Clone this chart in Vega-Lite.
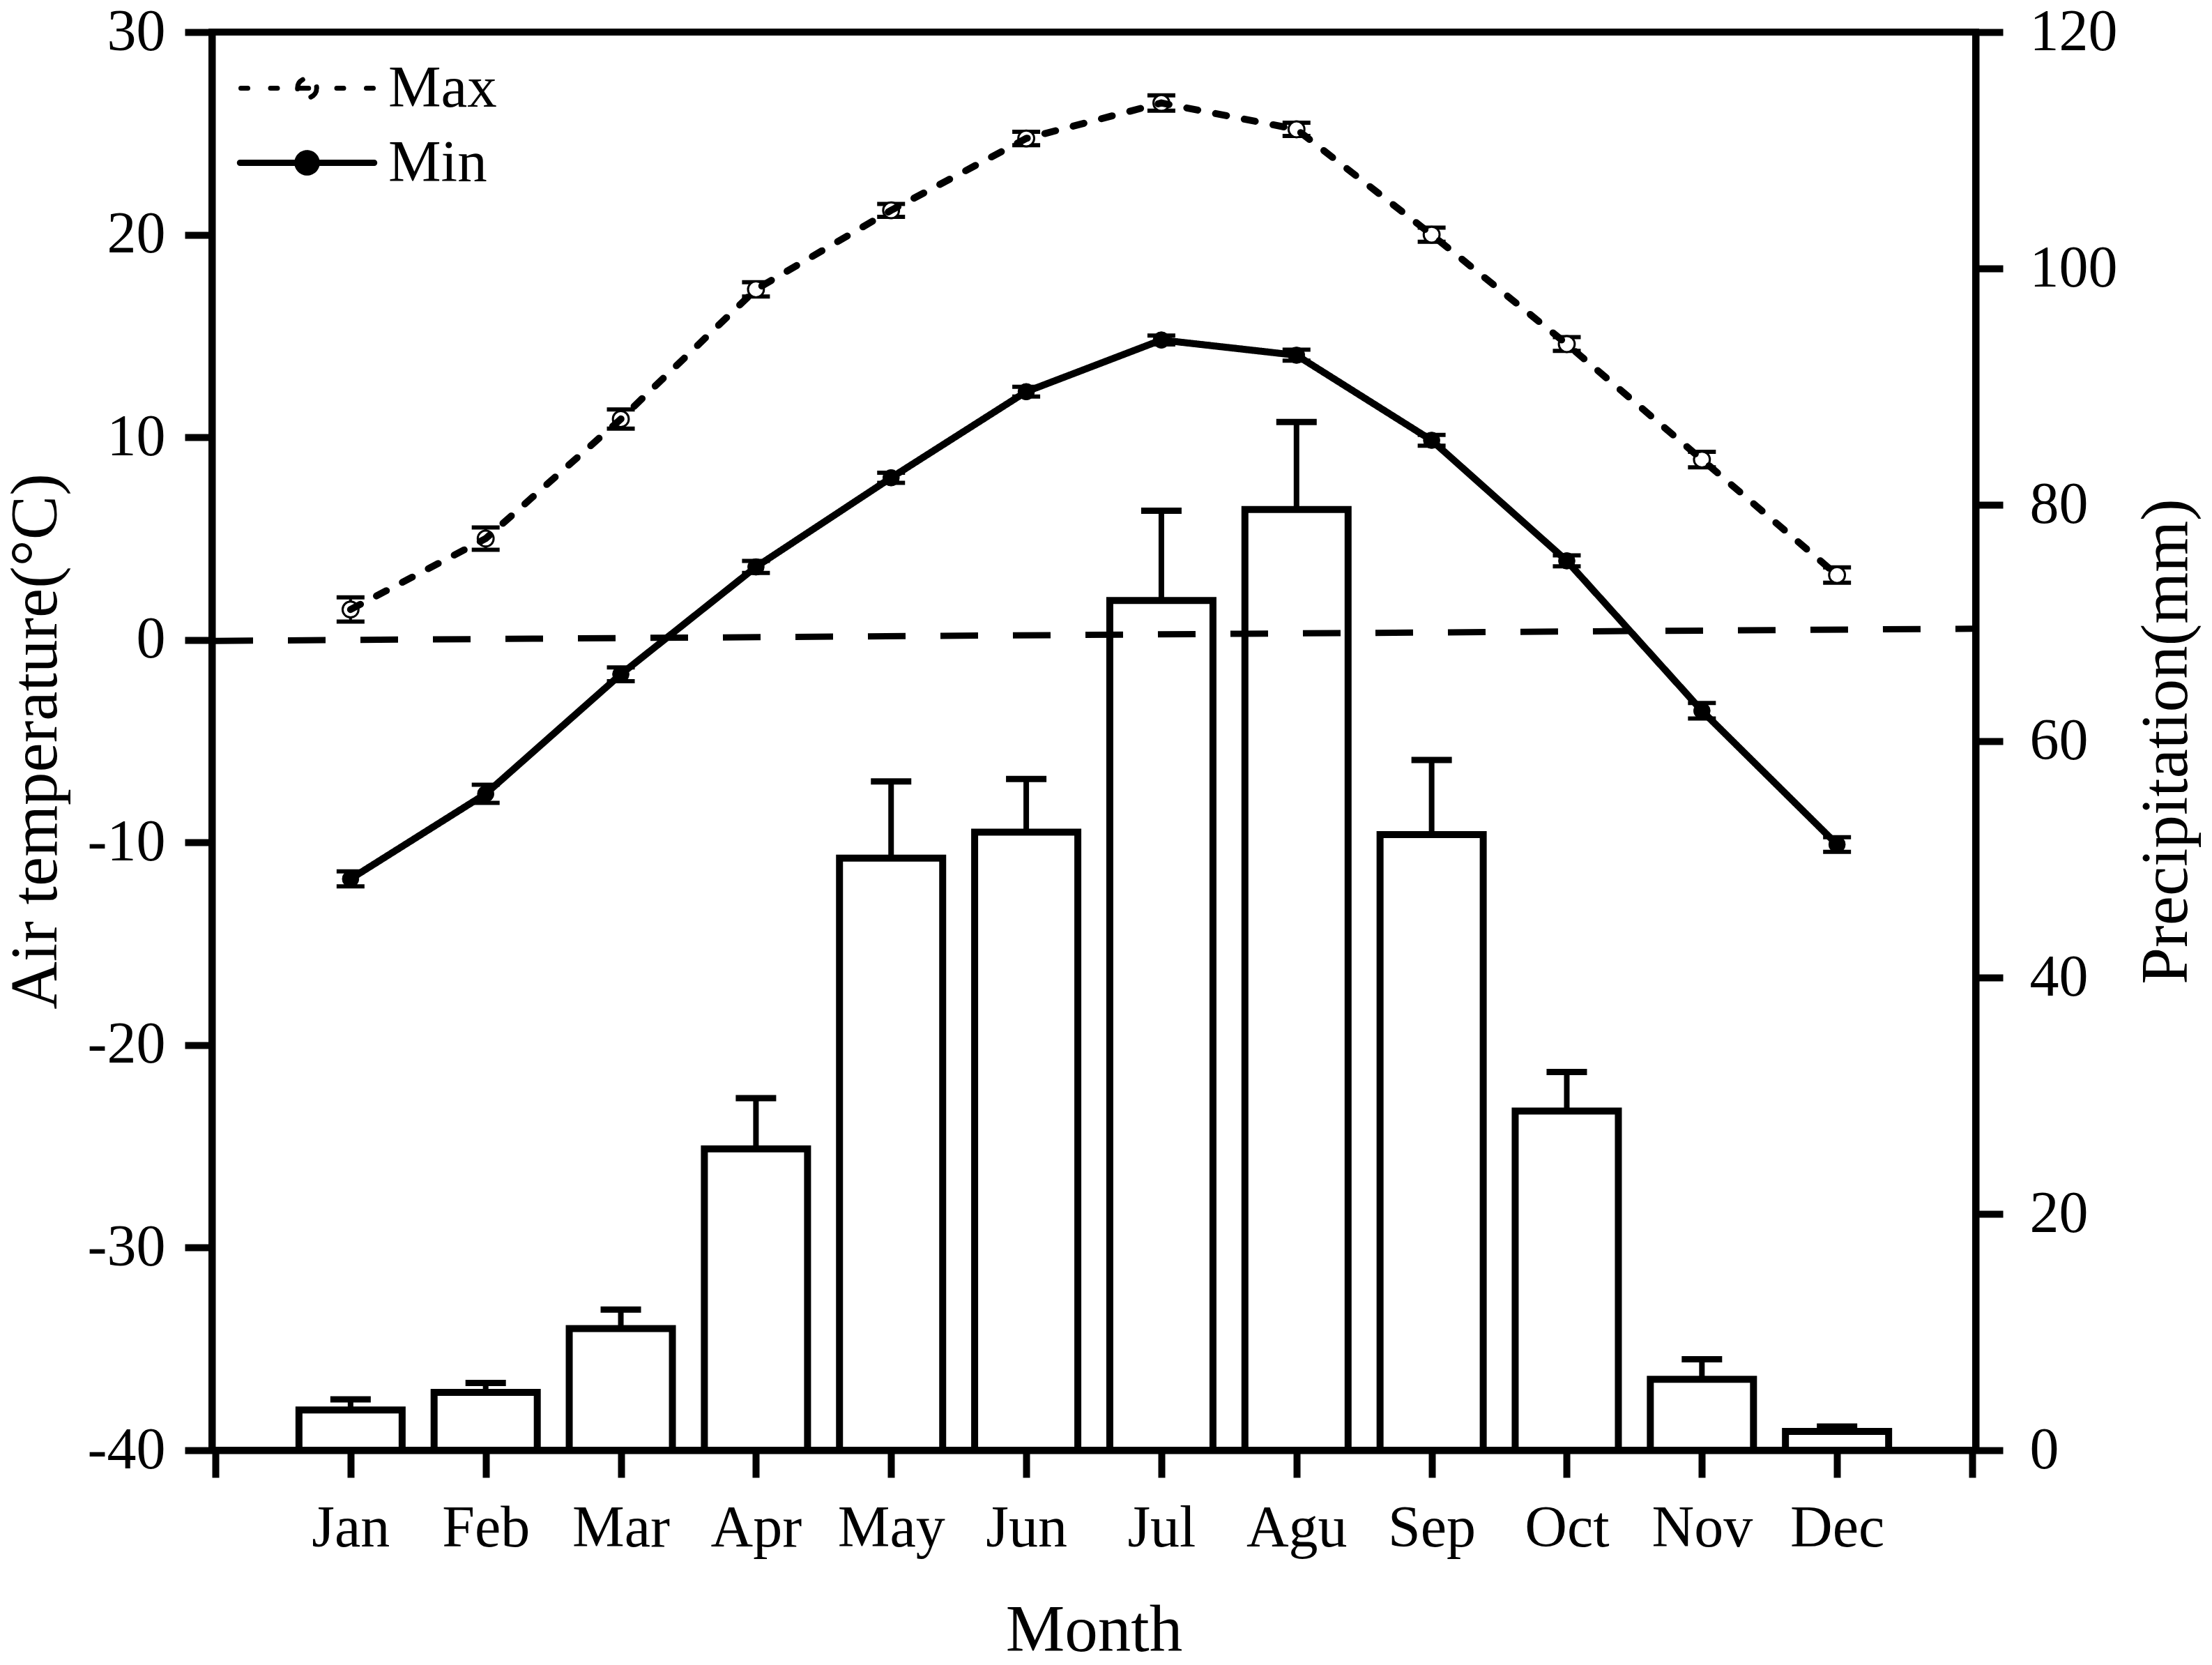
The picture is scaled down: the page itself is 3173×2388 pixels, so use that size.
{
  "$schema": "https://vega.github.io/schema/vega-lite/v6.json",
  "width": 2530,
  "height": 2034,
  "autosize": {"type": "none"},
  "padding": {"left": 304, "top": 46, "right": 339, "bottom": 308},
  "background": "white",
  "config": {
    "font": "Liberation Serif",
    "view": {"stroke": "black", "strokeWidth": 10},
    "axis": {
      "grid": false,
      "domainColor": "black",
      "domainWidth": 10,
      "tickColor": "black",
      "tickWidth": 10,
      "tickSize": 39,
      "labelFont": "Liberation Serif",
      "labelFontSize": 84,
      "labelColor": "black",
      "titleFont": "Liberation Serif",
      "titleFontSize": 95,
      "titleFontWeight": "normal",
      "titleColor": "black",
      "labelFlush": false,
      "labelOverlap": false
    }
  },
  "datasets": {
    "precip": [
      {"m": 1, "month": "Jan", "p": 3.4, "pe": 0.9},
      {"m": 2, "month": "Feb", "p": 4.9, "pe": 0.8},
      {"m": 3, "month": "Mar", "p": 10.3, "pe": 1.6},
      {"m": 4, "month": "Apr", "p": 25.5, "pe": 4.3},
      {"m": 5, "month": "May", "p": 50.1, "pe": 6.5},
      {"m": 6, "month": "Jun", "p": 52.3, "pe": 4.5},
      {"m": 7, "month": "Jul", "p": 71.9, "pe": 7.6},
      {"m": 8, "month": "Agu", "p": 79.6, "pe": 7.4},
      {"m": 9, "month": "Sep", "p": 52.1, "pe": 6.3},
      {"m": 10, "month": "Oct", "p": 28.7, "pe": 3.3},
      {"m": 11, "month": "Nov", "p": 6.0, "pe": 1.7},
      {"m": 12, "month": "Dec", "p": 1.6, "pe": 0.4}
    ],
    "temp": [
      {"m": 1, "series": "Max", "t": 1.5, "sd": 0.6},
      {"m": 2, "series": "Max", "t": 5.0, "sd": 0.55},
      {"m": 3, "series": "Max", "t": 10.9, "sd": 0.47},
      {"m": 4, "series": "Max", "t": 17.3, "sd": 0.35},
      {"m": 5, "series": "Max", "t": 21.2, "sd": 0.32},
      {"m": 6, "series": "Max", "t": 24.75, "sd": 0.33},
      {"m": 7, "series": "Max", "t": 26.5, "sd": 0.38},
      {"m": 8, "series": "Max", "t": 25.2, "sd": 0.33},
      {"m": 9, "series": "Max", "t": 20.0, "sd": 0.35},
      {"m": 10, "series": "Max", "t": 14.6, "sd": 0.34},
      {"m": 11, "series": "Max", "t": 8.9, "sd": 0.38},
      {"m": 12, "series": "Max", "t": 3.2, "sd": 0.38},
      {"m": 1, "series": "Min", "t": -11.8, "sd": 0.37},
      {"m": 2, "series": "Min", "t": -7.6, "sd": 0.45},
      {"m": 3, "series": "Min", "t": -1.7, "sd": 0.34},
      {"m": 4, "series": "Min", "t": 3.6, "sd": 0.3},
      {"m": 5, "series": "Min", "t": 8.0, "sd": 0.25},
      {"m": 6, "series": "Min", "t": 12.25, "sd": 0.24},
      {"m": 7, "series": "Min", "t": 14.8, "sd": 0.22},
      {"m": 8, "series": "Min", "t": 14.05, "sd": 0.27},
      {"m": 9, "series": "Min", "t": 9.85, "sd": 0.27},
      {"m": 10, "series": "Min", "t": 3.9, "sd": 0.27},
      {"m": 11, "series": "Min", "t": -3.5, "sd": 0.38},
      {"m": 12, "series": "Min", "t": -10.1, "sd": 0.36}
    ],
    "ref": [
      {"m": 0, "t": -0.05},
      {"m": 13, "t": 0.55}
    ]
  },
  "layer": [
    {
      "data": {"name": "precip"},
      "layer": [
        {
          "mark": {"type": "errorbar", "color": "black", "opacity": 1, "thickness": 8, "rule": {"opacity": 1, "strokeWidth": 8}, "ticks": {"size": 58, "thickness": 9, "color": "black", "opacity": 1}},
          "encoding": {
            "x": {
              "field": "m", "type": "quantitative",
              "scale": {"domain": [0, 13], "nice": false, "zero": false},
              "title": "Month",
              "axis": {
                "values": [0, 1, 2, 3, 4, 5, 6, 7, 8, 9, 10, 11, 12, 13],
                "labelExpr": "['','Jan','Feb','Mar','Apr','May','Jun','Jul','Agu','Sep','Oct','Nov','Dec',''][datum.value]",
                "title": "Month",
                "labelPadding": 32,
                "titlePadding": 58
              }
            },
            "y": {
              "field": "p", "type": "quantitative",
              "scale": {"domain": [0, 120], "nice": false, "zero": false},
              "title": "Precipitation(mm)",
              "axis": {
                "orient": "right",
                "values": [0, 20, 40, 60, 80, 100, 120],
                "title": "Precipitation(mm)",
                "labelPadding": 38,
                "titleAngle": -90,
                "titleBaseline": "top",
                "titlePadding": 27
              }
            },
            "yError": {"field": "pe"}
          }
        },
        {
          "mark": {"type": "bar", "orient": "vertical", "width": 148, "fill": "white", "stroke": "black", "strokeWidth": 10},
          "encoding": {
            "x": {"field": "m", "type": "quantitative", "title": "Month"},
            "y": {"field": "p", "type": "quantitative", "title": "Precipitation(mm)"}
          }
        }
      ]
    },
    {
      "layer": [
        {
          "data": {"name": "ref"},
          "mark": {"type": "line", "color": "black", "strokeWidth": 9, "strokeDash": [54, 50]},
          "encoding": {
            "x": {"field": "m", "type": "quantitative", "title": "Month"},
            "y": {
              "field": "t", "type": "quantitative",
              "scale": {"domain": [-40, 30], "nice": false, "zero": false},
              "title": "Air temperature(°C)",
              "axis": {
                "orient": "left",
                "values": [-40, -30, -20, -10, 0, 10, 20, 30],
                "labelExpr": "datum.value < 0 ? '-' + abs(datum.value) : '' + datum.value",
                "title": "Air temperature(°C)",
                "labelPadding": 28,
                "titleBaseline": "bottom",
                "titlePadding": 25
              }
            }
          }
        },
        {
          "data": {"name": "temp"},
          "mark": {"type": "errorbar", "color": "black", "opacity": 1, "thickness": 4, "rule": {"opacity": 1, "strokeWidth": 4}, "ticks": {"size": 40, "thickness": 6, "color": "black", "opacity": 1}},
          "encoding": {
            "x": {"field": "m", "type": "quantitative", "title": "Month"},
            "y": {"field": "t", "type": "quantitative", "title": "Air temperature(°C)"},
            "yError": {"field": "sd"}
          }
        },
        {
          "data": {"name": "temp"},
          "transform": [{"filter": "datum.series === 'Max'"}],
          "mark": {"type": "point", "shape": "circle", "filled": true, "fill": "white", "size": 520, "stroke": "black", "strokeWidth": 3, "opacity": 1},
          "encoding": {
            "x": {"field": "m", "type": "quantitative", "title": "Month"},
            "y": {"field": "t", "type": "quantitative", "title": "Air temperature(°C)"}
          }
        },
        {
          "data": {"name": "temp"},
          "transform": [{"filter": "datum.series === 'Min'"}],
          "mark": {"type": "point", "shape": "circle", "filled": true, "fill": "black", "size": 560, "stroke": "black", "strokeWidth": 1, "opacity": 1},
          "encoding": {
            "x": {"field": "m", "type": "quantitative", "title": "Month"},
            "y": {"field": "t", "type": "quantitative", "title": "Air temperature(°C)"}
          }
        },
        {
          "data": {"name": "temp"},
          "mark": {"type": "line", "color": "black", "strokeWidth": 10, "strokeCap": "round"},
          "encoding": {
            "x": {"field": "m", "type": "quantitative", "title": "Month"},
            "y": {"field": "t", "type": "quantitative", "title": "Air temperature(°C)"},
            "strokeDash": {
              "field": "series", "type": "nominal",
              "scale": {"domain": ["Max", "Min"], "range": [[16, 26], [1, 0]]},
              "legend": {
                "orient": "none",
                "legendX": 94,
                "legendY": 38,
                "title": null,
                "padding": 0,
                "symbolType": "M-4,0L4,0M0.55,0A0.55,0.55,0,1,1,-0.55,0A0.55,0.55,0,1,1,0.55,0",
                "symbolSize": 2500,
                "symbolStrokeColor": "black",
                "symbolStrokeWidth": 9,
                "labelFont": "Liberation Serif",
                "labelFontSize": 85,
                "labelColor": "black",
                "labelOffset": 74,
                "rowPadding": 21,
                "labelLimit": 400,
                "encode": {
                  "symbols": {
                    "update": {
                      "shape": {"signal": "datum.value === 'Max' ? 'M-3.8,0L-3.4,0M-2.1,0L-1.7,0M-0.55,0L0.55,0M1.7,0L2.1,0M3.4,0L3.8,0M0.55,0A0.55,0.55,0,1,1,-0.55,0A0.55,0.55,0,1,1,0.55,0' : 'M-3.85,0L3.85,0M0.55,0A0.55,0.55,0,1,1,-0.55,0A0.55,0.55,0,1,1,0.55,0'"},
                      "fill": {"signal": "datum.value === 'Min' ? 'black' : 'white'"},
                      "stroke": {"value": "black"},
                      "strokeWidth": {"signal": "datum.value === 'Min' ? 9 : 7"},
                      "strokeDash": {"value": [1, 0]},
                      "strokeCap": {"value": "round"},
                      "opacity": {"value": 1}
                    }
                  }
                }
              }
            }
          }
        }
      ]
    }
  ],
  "resolve": {"scale": {"y": "independent"}}
}
